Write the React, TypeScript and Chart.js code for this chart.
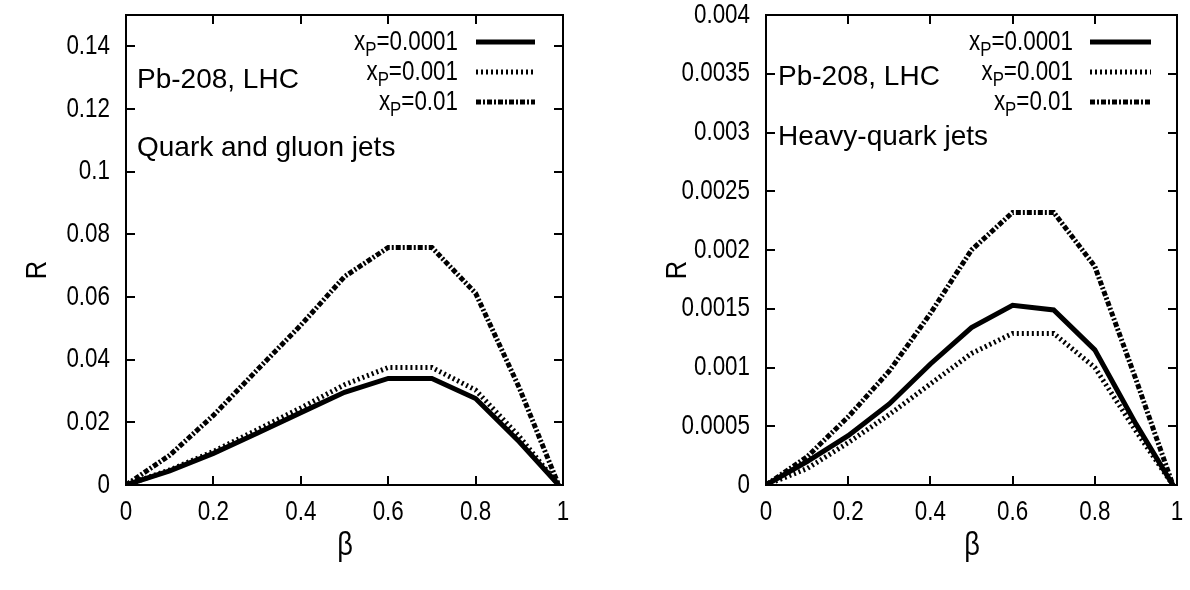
import React, { useEffect, useRef } from "react";
import { Chart, registerables } from "chart.js";
Chart.register(...registerables);

// ---------- data ----------
const beta = [0, 0.1, 0.2, 0.3, 0.4, 0.5, 0.6, 0.7, 0.8, 0.9, 0.99];
const seriesXP = ["0.0001", "0.001", "0.01"];

// Left panel: quark and gluon jets
const qgXP0001 = [0, 0.0045, 0.0101, 0.0165, 0.0231, 0.0296, 0.034, 0.034, 0.0276, 0.0138, 0];
const qgXP001 = [0, 0.0048, 0.0107, 0.0176, 0.0246, 0.032, 0.0375, 0.0375, 0.0303, 0.0155, 0];
const qgXP01 = [0, 0.0095, 0.0222, 0.0367, 0.051, 0.0665, 0.0758, 0.0758, 0.0612, 0.031, 0];

// Right panel: heavy-quark jets
const hqXP0001 = [0, 0.0002, 0.00042, 0.00069, 0.00103, 0.00134, 0.00153, 0.00149, 0.00115, 0.00052, 0];
const hqXP001 = [0, 0.00014, 0.00036, 0.0006, 0.00086, 0.00112, 0.00129, 0.00129, 0.001, 0.00046, 0];
const hqXP01 = [0, 0.00024, 0.00058, 0.00097, 0.00146, 0.002, 0.00232, 0.00232, 0.00186, 0.0009, 0];

const xTicks = [0, 0.2, 0.4, 0.6, 0.8, 1];
const xTickLabels = ["0", "0.2", "0.4", "0.6", "0.8", "1"];
const yTicksLeft = [0, 0.02, 0.04, 0.06, 0.08, 0.1, 0.12, 0.14];
const yTickLabelsLeft = ["0", "0.02", "0.04", "0.06", "0.08", "0.1", "0.12", "0.14"];
const yTicksRight = [0, 0.0005, 0.001, 0.0015, 0.002, 0.0025, 0.003, 0.0035, 0.004];
const yTickLabelsRight = ["0", "0.0005", "0.001", "0.0015", "0.002", "0.0025", "0.003", "0.0035", "0.004"];

const FONT = "'Liberation Sans', Arial, sans-serif";
const FS = 28;
const SX = 0.8; // horizontal condensing of the reference's narrow type

const lineStyles = [
  { width: 5, dash: [] as number[] },
  { width: 5, dash: [2, 3] },
  { width: 5, dash: [5, 2, 2, 2] },
];

function drawText(
  ctx: CanvasRenderingContext2D,
  text: string,
  x: number,
  y: number,
  size: number,
  align: CanvasTextAlign,
  sx: number
) {
  ctx.save();
  ctx.translate(x, y);
  ctx.scale(sx, 1);
  ctx.font = `${size}px ${FONT}`;
  ctx.textAlign = align;
  ctx.textBaseline = "middle";
  ctx.fillText(text, 0, 0);
  ctx.restore();
}

function textW(ctx: CanvasRenderingContext2D, text: string, size: number, sx: number) {
  ctx.save();
  ctx.font = `${size}px ${FONT}`;
  const w = ctx.measureText(text).width * sx;
  ctx.restore();
  return w;
}

type PanelProps = {
  left: number;
  width: number;
  height: number;
  series: number[][];
  yMax: number;
  yTicks: number[];
  yLabels: string[];
  area: { left: number; right: number; top: number; bottom: number };
  title1: { text: string; x: number; y: number };
  title2: { text: string; x: number; y: number };
  legendTextRight: number;
  legendLine: [number, number];
  legendRows: number[];
  yTitleX: number;
  xTitleX: number;
};

function Panel(p: PanelProps) {
  const ref = useRef<HTMLCanvasElement | null>(null);
  useEffect(() => {
    const canvas = ref.current!;
    const framePlugin = {
      id: "frame",
      afterDatasetsDraw(chart: any) {
        const ctx = chart.ctx as CanvasRenderingContext2D;
        const { left, right, top, bottom } = chart.chartArea;
        const xs = chart.scales.x;
        const ys = chart.scales.y;
        ctx.save();
        ctx.strokeStyle = "#000";
        ctx.fillStyle = "#000";
        ctx.lineWidth = 2;
        ctx.setLineDash([]);
        ctx.strokeRect(left, top, right - left, bottom - top);
        const tl = 9;
        ctx.beginPath();
        xTicks.forEach((v) => {
          const px = Math.round(xs.getPixelForValue(v));
          ctx.moveTo(px, bottom);
          ctx.lineTo(px, bottom - tl);
          ctx.moveTo(px, top);
          ctx.lineTo(px, top + tl);
        });
        p.yTicks.forEach((v) => {
          const py = Math.round(ys.getPixelForValue(v));
          ctx.moveTo(left, py);
          ctx.lineTo(left + tl, py);
          ctx.moveTo(right, py);
          ctx.lineTo(right - tl, py);
        });
        ctx.stroke();

        // tick labels
        xTicks.forEach((v, i) => {
          drawText(ctx, xTickLabels[i], xs.getPixelForValue(v), bottom + 27, FS, "center", SX);
        });
        p.yTicks.forEach((v, i) => {
          drawText(ctx, p.yLabels[i], left - 16, ys.getPixelForValue(v), FS, "right", SX);
        });

        // panel annotations
        drawText(ctx, p.title1.text, p.title1.x, p.title1.y, FS, "left", 1);
        drawText(ctx, p.title2.text, p.title2.x, p.title2.y, FS, "left", 1);

        // legend
        const subFS = Math.round(FS * 0.75);
        p.series.forEach((_, i) => {
          const y = p.legendRows[i];
          const rest = "=" + seriesXP[i];
          const wRest = textW(ctx, rest, FS, SX);
          const wX = textW(ctx, "x", FS, SX);
          const wP = textW(ctx, "P", subFS, SX);
          const x0 = p.legendTextRight - wRest - wP - wX;
          drawText(ctx, "x", x0, y, FS, "left", SX);
          drawText(ctx, "P", x0 + wX, y + 8, subFS, "left", SX);
          drawText(ctx, rest, x0 + wX + wP, y, FS, "left", SX);
          ctx.beginPath();
          ctx.lineWidth = lineStyles[i].width;
          ctx.setLineDash(lineStyles[i].dash);
          ctx.moveTo(p.legendLine[0], y);
          ctx.lineTo(p.legendLine[1], y);
          ctx.stroke();
        });
        ctx.setLineDash([]);

        // axis titles
        drawText(ctx, "\u03B2", p.xTitleX, 546, 34, "center", SX);
        ctx.save();
        ctx.translate(p.yTitleX, 270);
        ctx.rotate(-Math.PI / 2);
        drawText(ctx, "R", 0, 0, 30, "center", 0.85);
        ctx.restore();
        ctx.restore();
      },
    };

    const chart = new Chart(canvas, {
      type: "line",
      data: {
        datasets: p.series.map((s, i) => ({
          label: "x_P=" + seriesXP[i],
          data: beta.map((b, j) => ({ x: b, y: s[j] })),
          borderColor: "#000",
          borderWidth: lineStyles[i].width,
          borderDash: lineStyles[i].dash,
          pointRadius: 0,
          fill: false,
          tension: 0,
        })),
      },
      options: {
        animation: false,
        responsive: false,
        maintainAspectRatio: false,
        layout: { padding: { top: p.area.top, right: p.width - p.area.right, left: 0, bottom: 0 } },
        plugins: { legend: { display: false }, tooltip: { enabled: false } },
        scales: {
          x: {
            type: "linear",
            min: 0,
            max: 1,
            afterBuildTicks: (s: any) => {
              s.ticks = xTicks.map((v) => ({ value: v }));
            },
            afterFit: (s: any) => {
              s.height = p.height - p.area.bottom;
            },
            ticks: { display: false },
            grid: { display: false, drawTicks: false },
            border: { display: false },
          },
          y: {
            type: "linear",
            min: 0,
            max: p.yMax,
            afterBuildTicks: (s: any) => {
              s.ticks = p.yTicks.map((v) => ({ value: v }));
            },
            afterFit: (s: any) => {
              s.width = p.area.left;
            },
            ticks: { display: false },
            grid: { display: false, drawTicks: false },
            border: { display: false },
          },
        },
      } as any,
      plugins: [framePlugin],
    });
    return () => chart.destroy();
  }, []);
  return (
    <canvas
      ref={ref}
      width={p.width}
      height={p.height}
      style={{ position: "absolute", left: p.left, top: 0, width: p.width, height: p.height }}
    />
  );
}

export default function App() {
  return (
    <div style={{ position: "absolute", left: 0, top: 0, width: 1190, height: 590, background: "#fff" }}>
      <Panel
        left={0}
        width={640}
        height={590}
        series={[qgXP0001, qgXP001, qgXP01]}
        yMax={0.15}
        yTicks={yTicksLeft}
        yLabels={yTickLabelsLeft}
        area={{ left: 126, right: 563, top: 15, bottom: 485 }}
        title1={{ text: "Pb-208, LHC", x: 137, y: 80 }}
        title2={{ text: "Quark and gluon jets", x: 137, y: 148 }}
        legendTextRight={458}
        legendLine={[476, 535]}
        legendRows={[42, 72, 102]}
        yTitleX={38}
        xTitleX={345}
      />
      <Panel
        left={640}
        width={550}
        height={590}
        series={[hqXP0001, hqXP001, hqXP01]}
        yMax={0.004}
        yTicks={yTicksRight}
        yLabels={yTickLabelsRight}
        area={{ left: 126, right: 537, top: 15, bottom: 485 }}
        title1={{ text: "Pb-208, LHC", x: 138, y: 77 }}
        title2={{ text: "Heavy-quark jets", x: 138, y: 137 }}
        legendTextRight={433}
        legendLine={[450, 511]}
        legendRows={[42, 72, 102]}
        yTitleX={38}
        xTitleX={332}
      />
    </div>
  );
}
